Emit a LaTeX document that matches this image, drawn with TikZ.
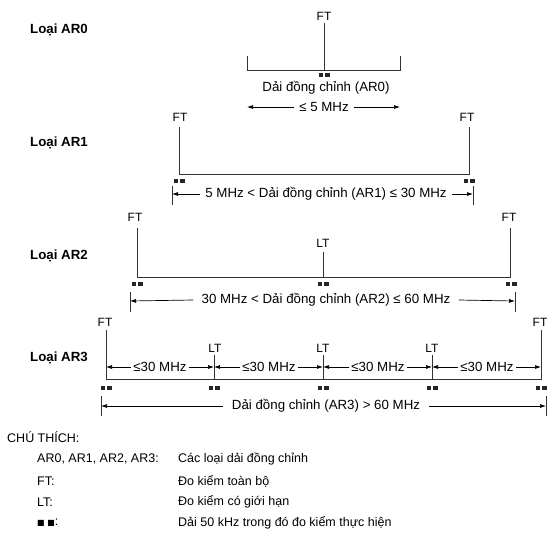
\documentclass[tikz,border=0pt]{standalone}
\usepackage{fontspec}
\setmainfont{Liberation Sans}
\newfontfamily\symfont{DejaVu Sans}
\usetikzlibrary{arrows.meta,calc}
\tikzset{
  txt/.style={inner sep=0pt, font=\fontsize{13.3}{15}\selectfont, text=black},
  tag/.style={inner sep=0pt, font=\fontsize{12}{14}\selectfont, text=black},
  ttl/.style={inner sep=0pt, font=\fontsize{13.3}{15}\selectfont\bfseries, anchor=west},
  lgd/.style={inner sep=0pt, font=\fontsize{12.5}{15}\selectfont, anchor=west},
  dimtxt/.style={txt, inner xsep=7pt},
  ln/.style={line width=0.9pt, draw=black!80},
  tick/.style={line width=0.7pt, draw=black!80},
  dimarr/.style={line width=0.7pt, draw=black, -{Latex[length=6pt,width=4pt]}},
  mk/.pic={\fill[black!85] (-5.5,0) rectangle (-1,4); \fill[black!85] (1,0) rectangle (5.5,4);}
}
\begin{document}
\begin{tikzpicture}[x=1pt,y=-1pt]
\useasboundingbox (0,0) rectangle (556,532);

% ---------- AR0 ----------
\node[ttl] (t0) at (30,30) {Loại AR0};
\node[tag] (ft0) at (324,16) {FT};
\coordinate (a0) at (324,23);
\coordinate (b0) at (324,70);
\coordinate (l0) at (247,70);
\coordinate (r0) at (400,70);
\draw[ln] (a0) -- (b0);
\draw[ln] ($(l0)+(0,-14)$) -- (l0) -- (r0) -- ($(r0)+(0,-14)$);
\pic at (324,73) {mk};
\node[txt] (d0) at (326,88) {Dải đồng chỉnh (AR0)};
\node[dimtxt, inner xsep=5pt] (w0) at (324,107) {≤ 5 MHz};
\coordinate (wl0) at (247,107);
\coordinate (wr0) at (400,107);
\draw[dimarr] (w0.west) -- (wl0);
\draw[dimarr] (w0.east) -- (wr0);

% ---------- AR1 ----------
\node[ttl] (t1) at (30,143) {Loại AR1};
\node[tag] (ft1a) at (180,117) {FT};
\node[tag] (ft1b) at (467,117) {FT};
\coordinate (a1) at (179,127);
\coordinate (b1) at (469,127);
\draw[ln] (a1) -- (179,174) -- (469,174) -- (b1);
\pic at (179,179) {mk};
\pic at (469,179) {mk};
\coordinate (tl1) at (172,194);
\coordinate (tr1) at (473,194);
\draw[tick] ($(tl1)+(0,-8)$) -- ($(tl1)+(0,11)$);
\draw[tick] ($(tr1)+(0,-8)$) -- ($(tr1)+(0,11)$);
\node[dimtxt, inner xsep=5pt] (w1) at (326,194) {5 MHz < Dải đồng chỉnh (AR1) ≤ 30 MHz};
\draw[dimarr] (w1.west) -- (tl1);
\draw[dimarr] (w1.east) -- (tr1);

% ---------- AR2 ----------
\node[ttl] (t2) at (30,256) {Loại AR2};
\node[tag] (ft2a) at (135,217) {FT};
\node[tag] (ft2b) at (509,217) {FT};
\node[tag] (lt2) at (323,243) {LT};
\coordinate (a2) at (137,228);
\coordinate (b2) at (510,228);
\coordinate (c2) at (323,252);
\draw[ln] (a2) -- (137,277) -- (510,277) -- (b2);
\draw[ln] (c2) -- (323,277);
\pic at (137,282) {mk};
\pic at (323,282) {mk};
\pic at (511,282) {mk};
\coordinate (tl2) at (130,301);
\coordinate (tr2) at (515,301);
\draw[tick] ($(tl2)+(0,-9)$) -- ($(tl2)+(0,11)$);
\draw[tick] ($(tr2)+(0,-9)$) -- ($(tr2)+(0,11)$);
\node[dimtxt, inner xsep=8pt] (w2) at (326,300) {30 MHz < Dải đồng chỉnh (AR2) ≤ 60 MHz};
\draw[dimarr] (w2.west) -- (tl2);
\draw[dimarr] (w2.east) -- (tr2);

% ---------- AR3 ----------
\node[ttl] (t3) at (30,358) {Loại AR3};
\node[tag] (ft3a) at (105,322) {FT};
\node[tag] (ft3b) at (540,322) {FT};
\node[tag] (lt3a) at (215,348) {LT};
\node[tag] (lt3b) at (323,348) {LT};
\node[tag] (lt3c) at (432,348) {LT};
\draw[ln] (106,330) -- (106,379) -- (541,379) -- (541,330);
\draw[ln] (214,355) -- (214,379);
\draw[ln] (323,355) -- (323,379);
\draw[ln] (432,355) -- (432,379);
\foreach \x in {106,214,323,432,541} { \pic at (\x,386) {mk}; }
\coordinate (s0) at (106,367);
\coordinate (s1) at (214,367);
\coordinate (s2) at (323,367);
\coordinate (s3) at (432,367);
\coordinate (s4) at (541,367);
\node[dimtxt, inner xsep=2pt] (g1) at (160,367) {≤30 MHz};
\node[dimtxt, inner xsep=2pt] (g2) at (269,367) {≤30 MHz};
\node[dimtxt, inner xsep=2pt] (g3) at (378,367) {≤30 MHz};
\node[dimtxt, inner xsep=2pt] (g4) at (487,367) {≤30 MHz};
\draw[dimarr] (g1.west) -- (s0);
\draw[dimarr] (g1.east) -- (s1);
\draw[dimarr] (g2.west) -- (s1);
\draw[dimarr] (g2.east) -- (s2);
\draw[dimarr] (g3.west) -- (s2);
\draw[dimarr] (g3.east) -- (s3);
\draw[dimarr] (g4.west) -- (s3);
\draw[dimarr] (g4.east) -- (s4);
\coordinate (tl3) at (101,406);
\coordinate (tr3) at (546,406);
\draw[tick] ($(tl3)+(0,-10)$) -- ($(tl3)+(0,10)$);
\draw[tick] ($(tr3)+(0,-10)$) -- ($(tr3)+(0,10)$);
\node[dimtxt, inner xsep=9pt] (w3) at (326,406) {Dải đồng chỉnh (AR3) > 60 MHz};
\draw[dimarr] (w3.west) -- (tl3);
\draw[dimarr] (w3.east) -- (tr3);

% ---------- Legend ----------
\node[lgd] (c0) at (7,437) {CHÚ THÍCH:};
\node[lgd] (k1) at (37,459) {AR0, AR1, AR2, AR3:};
\node[lgd] (v1) at (178,459) {Các loại dải đồng chỉnh};
\node[lgd] (k2) at (37,481) {FT:};
\node[lgd] (v2) at (178,481) {Đo kiểm toàn bộ};
\node[lgd] (k3) at (37,502) {LT:};
\node[lgd] (v3) at (178,502) {Đo kiểm có giới hạn};
\node[lgd] (k4) at (37,523) {{\symfont\fontsize{8}{10}\selectfont ■ ■}:};
\node[lgd] (v4) at (178,523) {Dải 50 kHz trong đó đo kiểm thực hiện};
\end{tikzpicture}
\end{document}
